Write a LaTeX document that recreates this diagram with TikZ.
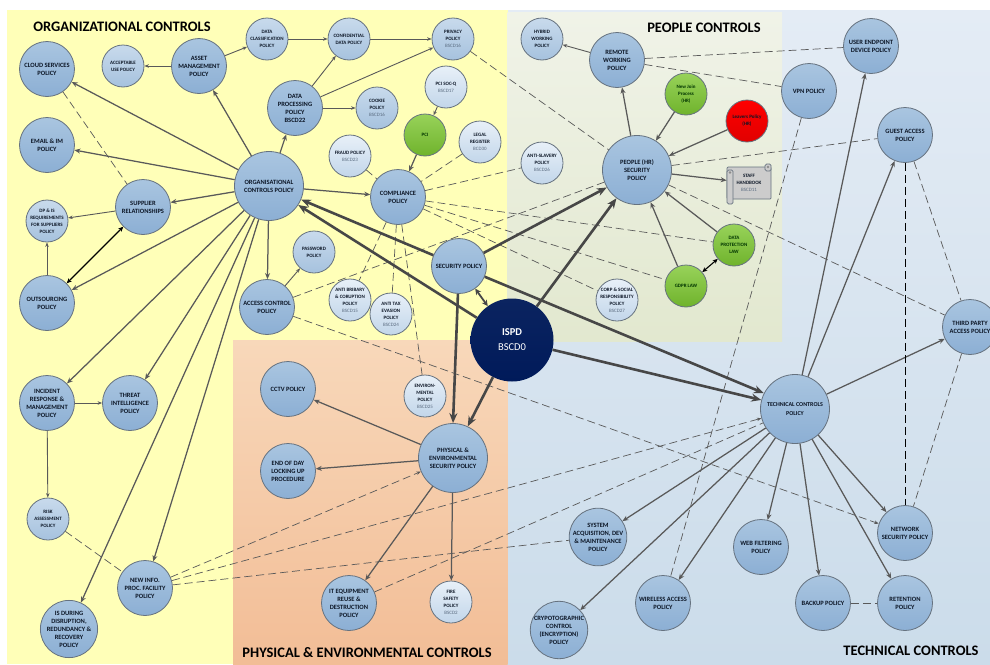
\documentclass[tikz,border=0pt]{standalone}
\usepackage{fontspec}
\setmainfont{Carlito}
\usepackage{tikz}
\usetikzlibrary{graphs}
\usetikzlibrary{arrows.meta}

\definecolor{linegrey}{HTML}{595959}
\definecolor{rimgrey}{HTML}{66727F}
\definecolor{inkblue}{HTML}{0C1626}
\definecolor{codegrey}{HTML}{5A6B80}
\definecolor{bigtop}{HTML}{A9C5E0}
\definecolor{bigbot}{HTML}{8CAFD4}
\definecolor{midtop}{HTML}{C8DAEC}
\definecolor{midbot}{HTML}{A6C2DE}
\definecolor{paletop}{HTML}{E8F0F8}
\definecolor{palebot}{HTML}{C2D6EA}
\definecolor{greentop}{HTML}{98D25A}
\definecolor{greenbot}{HTML}{6FB32C}
\definecolor{orgpanel}{HTML}{FFFFB8}
\definecolor{techtop}{HTML}{E4ECF5}
\definecolor{techbot}{HTML}{CBDCEA}
\definecolor{peotop}{HTML}{F0F3E8}
\definecolor{peobot}{HTML}{E2E8CF}
\definecolor{phytop}{HTML}{F8D8BA}
\definecolor{phybot}{HTML}{F2BD96}
\definecolor{ispdtop}{HTML}{0B2460}
\definecolor{ispdbot}{HTML}{001A5A}
\newcommand{\code}[1]{{\mdseries\color{codegrey}#1}}

\tikzset{
    pol/.style={circle,draw=rimgrey,line width=0.8pt,inner sep=0pt,outer sep=0.4pt,align=center,text=inkblue},
    bigpol/.style={pol,minimum size=55pt,top color=bigtop,bottom color=bigbot,font=\bfseries\fontsize{6.5}{8}\selectfont},
    hugepol/.style={bigpol,minimum size=69pt},
    midpol/.style={pol,minimum size=42pt,top color=midtop,bottom color=midbot,font=\bfseries\fontsize{5}{7}\selectfont},
    palepol/.style={midpol,top color=paletop,bottom color=palebot},
    greenpol/.style={midpol,top color=greentop,bottom color=greenbot,text=black!80!green},
    redpol/.style={midpol,top color=red,bottom color=red!88!black},
    panelhead/.style={font=\bfseries\fontsize{14.5}{16}\selectfont,text=black,inner sep=0pt},
    arr/.style={->,draw=linegrey,line width=1.25pt,>={Stealth[length=6pt,width=5pt]}},
    thinarr/.style={->,draw=linegrey,line width=0.9pt,>={Stealth[length=4.5pt,width=3.5pt]}},
    fatarr/.style={->,draw=linegrey!80!black,line width=2.6pt,>={Stealth[length=10pt,width=8pt]}},
    fatboth/.style={<->,draw=linegrey!80!black,line width=1.8pt,>={Stealth[length=6pt,width=6pt]}},
    both/.style={<->,draw=black,line width=1.1pt,>={Stealth[length=5pt,width=4.5pt]}},
    dashln/.style={draw=linegrey,line width=0.7pt,dash pattern=on 8pt off 4pt},
    dashblack/.style={draw=black,line width=0.7pt,dash pattern=on 8pt off 4pt},
    dasharr/.style={->,dashln,>={Stealth[length=4.5pt,width=3.5pt]}},
}

\begin{document}
\begin{tikzpicture}[x=1pt,y=-1pt]
    \useasboundingbox (0,0) rectangle (990,664);
    % panels
    \path[top color=techtop,bottom color=techbot] (507,10) rectangle (990,664);
    \path[fill=orgpanel] (7,10) rectangle (507.5,340);
    \path[fill=orgpanel] (7,340) rectangle (233,664);
    \path[top color=peotop,bottom color=peobot] (507.5,12) rectangle (782,341);
    \path[top color=phytop,bottom color=phybot] (233,340) rectangle (507.5,664);

    \node (orghead)  [panelhead] at (122,27)  {ORGANIZATIONAL CONTROLS};
    \node (peohead)  [panelhead] at (704,28)  {PEOPLE CONTROLS};
    \node (phyhead)  [panelhead] at (367,653) {PHYSICAL \& ENVIRONMENTAL CONTROLS};
    \node (techhead) [panelhead] at (911,651) {TECHNICAL CONTROLS};

    % organisational
    \node (org)      [hugepol] at (269,186) {ORGANISATIONAL\\CONTROLS POLICY};
    \node (cloud)    [bigpol]  at (47,69)   {CLOUD SERVICES\\POLICY};
    \node (email)    [bigpol]  at (47,145)  {EMAIL \& IM\\POLICY};
    \node (supplier) [bigpol]  at (143,207) {SUPPLIER\\RELATIONSHIPS};
    \node (outsrc)   [bigpol]  at (47,303)  {OUTSOURCING\\POLICY};
    \node (asset)    [bigpol]  at (199,66)  {ASSET\\MANAGEMENT\\POLICY};
    \node (dataproc) [bigpol]  at (295,108) {DATA\\PROCESSING\\POLICY\\BSCD22};
    \node (access)   [bigpol]  at (267,307) {ACCESS CONTROL\\POLICY};
    \node (comply)   [bigpol]  at (398,197) {COMPLIANCE\\POLICY};
    \node (incident) [bigpol]  at (47,403)  {INCIDENT\\RESPONSE \&\\MANAGEMENT\\POLICY};
    \node (threat)   [bigpol]  at (130,403) {THREAT\\INTELLIGENCE\\POLICY};
    \node (newinfo)  [bigpol]  at (145,588) {NEW INFO.\\PROC. FACILITY\\POLICY};
    \node (isduring) [bigpol]  at (69,629)  {IS DURING\\DISRUPTION,\\REDUNDANCY \&\\RECOVERY\\POLICY};
    \node (accept)   [midpol]  at (123,66)  {ACCEPTABLE\\USE POLICY};
    \node (dpis)     [midpol]  at (47,221)  {DP \& IS\\REQUIREMENTS\\FOR SUPPLIERS\\POLICY};
    \node (risk)     [midpol]  at (48,519)  {RISK\\ASSESSMENT\\POLICY};
    \node (dataclass)[midpol]  at (267,39)  {DATA\\CLASSIFICATION\\POLICY};
    \node (confid)   [midpol]  at (349,39)  {CONFIDENTIAL\\DATA POLICY};
    \node (privacy)  [midpol]  at (453,39)  {PRIVACY\\POLICY\\\code{BSCD16}};
    \node (cookie)   [midpol]  at (377,108) {COOKIE\\POLICY\\\code{BSCD16}};
    \node (password) [midpol]  at (314,252) {PASSWORD\\POLICY};
    \node (pcisoc)   [palepol] at (446,87)  {PCI SOC-Q\\\code{BSCD17}};
    \node (legal)    [palepol] at (480,142) {LEGAL\\REGISTER\\\code{BCD30}};
    \node (fraud)    [palepol] at (350,156) {FRAUD POLICY\\\code{BSCD23}};
    \node (bribe)    [palepol] at (350,300) {ANTI BRIBARY\\\& CORUPTION\\POLICY\\\code{BSCD15}};
    \node (taxev)    [palepol] at (391,314) {ANTI TAX\\EVASION\\POLICY\\\code{BSCD24}};
    \node (pci)      [greenpol] at (425,135) {PCI};

    % people
    \node (people)   [hugepol] at (637,170) {PEOPLE (HR)\\SECURITY\\POLICY};
    \node (security) [bigpol]  at (459,266) {SECURITY POLICY};
    \node (remote)   [bigpol]  at (617,60)  {REMOTE\\WORKING\\POLICY};
    \node (hybrid)   [midpol]  at (542,39)  {HYBRID\\WORKING\\POLICY};
    \node (slavery)  [palepol] at (542,163) {ANTI-SLAVERY\\POLICY\\\code{BSCD26}};
    \node (corp)     [palepol] at (617,300) {CORP \& SOCIAL\\RESPONSIBILITY\\POLICY\\\code{BSCD27}};
    \node (newjoin)  [greenpol] at (686,94)  {New Join\\Process\\(HR)};
    \node (dplaw)    [greenpol] at (734,245) {DATA\\PROTECTION\\LAW};
    \node (gdpr)     [greenpol] at (686,286) {GDPR LAW};
    \node (leavers)  [redpol]  at (747,121) {Leavers Policy\\(HR)};
    \node (handbook) [draw=rimgrey,fill=black!20,rounded corners=1pt,line width=0.7pt,minimum width=44pt,minimum height=32pt,inner sep=0pt,align=center,text=inkblue,font=\bfseries\fontsize{5}{7}\selectfont] at (749,183) {STAFF\\HANDBOOK\\\code{BSCD11}};
    % scroll rolls
    \draw[rimgrey,fill=black!20,line width=0.7pt,rounded corners=1.5pt] (727,170) rectangle (733,204);
    \draw[rimgrey,fill=black!20,line width=0.7pt,rounded corners=1.5pt] (765,164) rectangle (771,171);
    \fill[black!45] (730,172.5) circle (1.3pt) (768,167) circle (1.3pt);

    % ispd
    \node (ispd)     [circle,minimum size=83pt,inner sep=0pt,top color=ispdtop,bottom color=ispdbot,text=white,align=center,font=\fontsize{10.5}{15}\selectfont] at (512,340) {\textbf{ISPD}\\BSCD0};

    % physical
    \node (physical) [hugepol] at (453,458) {PHYSICAL \&\\ENVIRONMENTAL\\SECURITY POLICY};
    \node (cctv)     [bigpol]  at (288,389) {CCTV POLICY};
    \node (endofday) [bigpol]  at (288,471) {END OF DAY\\LOCKING UP\\PROCEDURE};
    \node (itequip)  [bigpol]  at (349,603) {IT EQUIPMENT\\REUSE \&\\DESTRUCTION\\POLICY};
    \node (environ)  [palepol] at (425,396) {ENVIRON-\\MENTAL\\POLICY\\\code{BSCD25}};
    \node (fire)     [palepol] at (451,602) {FIRE\\SAFETY\\POLICY\\\code{BSCD2}};

    % technical
    \node (tech)     [hugepol,font=\bfseries\fontsize{6}{8.5}\selectfont] at (795,409) {TECHNICAL CONTROLS\\POLICY};
    \node (vpn)      [bigpol]  at (809,91)  {VPN POLICY};
    \node (endpoint) [bigpol]  at (871,46)  {USER ENDPOINT\\DEVICE POLICY};
    \node (guest)    [bigpol]  at (905,135) {GUEST ACCESS\\POLICY};
    \node (third)    [bigpol]  at (970,327) {THIRD PARTY\\ACCESS POLICY};
    \node (network)  [bigpol]  at (905,533) {NETWORK\\SECURITY POLICY};
    \node (webfilt)  [bigpol]  at (761,547) {WEB FILTERING\\POLICY};
    \node (backup)   [bigpol]  at (823,603) {BACKUP POLICY};
    \node (retain)   [bigpol]  at (905,603) {RETENTION\\POLICY};
    \node (wireless) [bigpol]  at (663,603) {WIRELESS ACCESS\\POLICY};
    \node (crypto)   [bigpol]  at (559,630) {CRYPOTOGRAPHIC\\CONTROL\\(ENCRYPTION)\\POLICY};
    \node (system)   [bigpol]  at (598,537) {SYSTEM\\ACQUISITION, DEV\\\& MAINTENANCE\\POLICY};

    \graph{
        (org) -> [arr] (cloud);
        (org) -> [arr] (email);
        (org) -> [arr] (supplier);
        (org) -> [arr] (asset);
        (org) -> [arr] (dataproc);
        (org) -> [arr] (comply);
        (org) -> [arr] (access);
        (org) -> [arr] (outsrc);
        (org) -> [arr] (incident);
        (org) -> [arr] (threat);
        (org) -> [arr] (isduring);
        (org) -> [arr] (newinfo);
        (asset) -> [thinarr] (accept);
        (asset) -> [thinarr] (dataclass);
        (dataclass) -> [thinarr] (confid);
        (confid) -> [thinarr] (privacy);
        (dataproc) -> [thinarr] (confid);
        (dataproc) -> [thinarr] (privacy);
        (dataproc) -> [thinarr] (cookie);
        (supplier) -> [thinarr] (dpis);
        (outsrc) -> [thinarr] (dpis);
        (supplier) <-> [both] (outsrc);
        (access) -> [thinarr] (password);
        (pcisoc) -> [thinarr] (pci);
        (pci) -> [arr] (comply);
        (incident) -> [thinarr] (threat);
        (incident) -> [thinarr] (risk);

        (remote) -> [thinarr] (hybrid);
        (people) -> [arr] (remote);
        (people) -> [arr] (handbook);
        (newjoin) -> [arr] (people);
        (leavers) -> [arr] (people);
        (dplaw) -> [arr] (people);
        (gdpr) -> [arr] (people);
        (gdpr) <-> [both] (dplaw);

        (physical) -> [arr] (cctv);
        (physical) -> [arr] (endofday);
        (physical) -> [arr] (fire);
        (physical) -> [arr] (itequip);

        (tech) -> [arr] (endpoint);
        (tech) -> [arr] (guest);
        (tech) -> [arr] (third);
        (tech) -> [arr] (network);
        (tech) -> [arr] (retain);
        (tech) -> [arr] (backup);
        (tech) -> [arr] (webfilt);
        (tech) -> [arr] (wireless);
        (tech) -> [arr] (crypto);
        (tech) -> [arr] (system);

        (cloud) -- [dashln] (supplier);
        (fraud) -- [dashln] (comply);
        (legal) -- [dashln] (comply);
        (comply) -- [dashln] (slavery);
        (comply) -- [dashln] (bribe);
        (comply) -- [dashln] (taxev);
        (comply) -- [dashln] (environ);
        (comply) -- [dashln] (dplaw);
        (comply) -- [dashln] (gdpr);
        (comply) -- [dashln] (corp);
        (access) -- [dashln] (people);
        (access) -> [dasharr] (network);
        (privacy) -- [dashln] (people);
        (remote) -- [dashln] (endpoint);
        (remote) -- [dashln] (vpn);
        (people) -- [dashln] (guest);
        (people) -- [dashln] (third);
        (vpn) -- [dashln] (wireless);
        (guest) -- [dashblack] (network);
        (guest) -- [dashln] (third);
        (third) -- [dashln] (network);
        (backup) -- [dashln] (retain);
        (risk) -- [dashln] (newinfo);
        (newinfo) -> [dasharr] (physical);
        (newinfo) -> [dasharr] (tech);
        (newinfo) -- [dashln] (system);
        (itequip) -- [dashln] (tech);
    };
    % the heavy lines meet their circles at set angles
    \draw[fatarr] (security) -- (org.-23);
    \draw[fatarr] (ispd) -- (org.-33);
    \draw[fatarr] (security) -- (people.210);
    \draw[fatarr] (ispd) -- (people.234);
    \draw[fatarr] (security) -- (tech.153);
    \draw[fatarr] (ispd) -- (tech.165);
    \draw[fatarr] (security) -- (physical.90);
    \draw[fatarr] (ispd) -- (physical.65);
    \draw[fatboth] (ispd) -- (security);
\end{tikzpicture}
\end{document}
